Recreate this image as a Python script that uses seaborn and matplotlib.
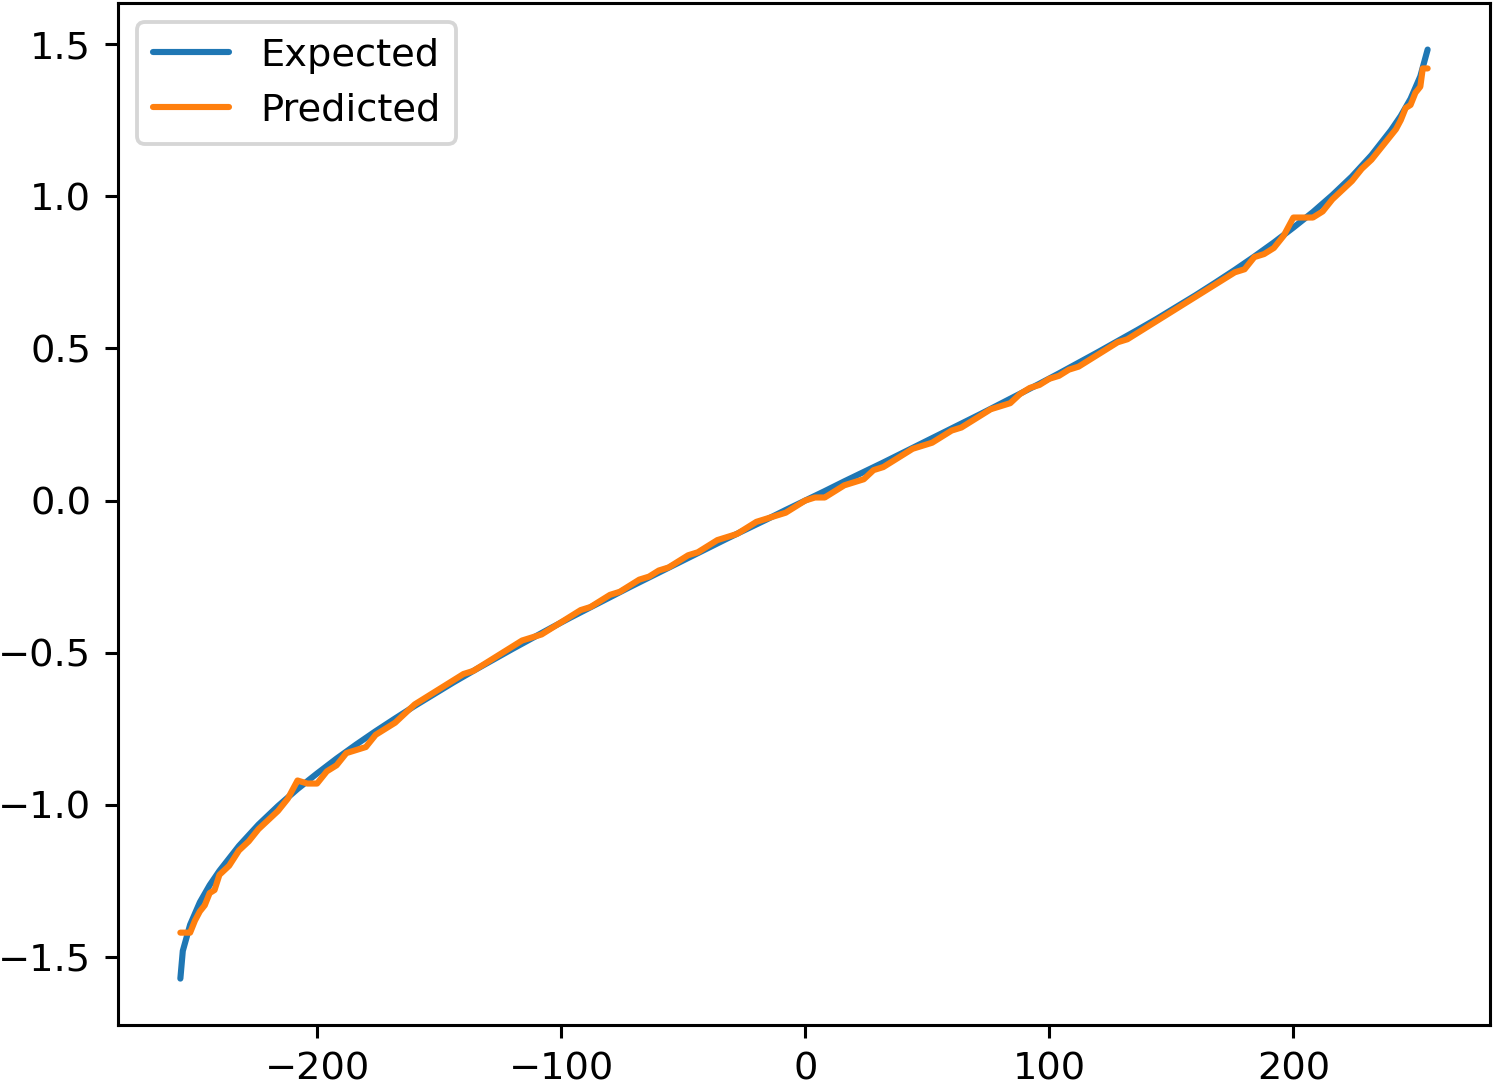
import numpy as np
import pandas as pd
import seaborn as sns
import matplotlib.pyplot as plt

# expected curve
exp_x = [-256, -255, -252, -248, -244, -240, -232, -224, -216, -208, -200, -192,
         -184, -176, -168, -160, -152, -144, -136, -128, -120, -112, -104, -96,
         -88, -80, -72, -64, -56, -48, -40, -32, -24, -16, -8, 0,
         8, 16, 24, 32, 40, 48, 56, 64, 72, 80, 88, 96,
         104, 112, 120, 128, 136, 144, 152, 160, 168, 176, 184, 192,
         200, 208, 216, 224, 232, 240, 244, 248, 252, 255]
exp_y = [-1.571, -1.48, -1.394, -1.320, -1.264, -1.217, -1.135, -1.065, -1.004, -0.948, -0.897, -0.848,
         -0.802, -0.758, -0.716, -0.675, -0.636, -0.597, -0.560, -0.524, -0.488, -0.453, -0.418, -0.384,
         -0.351, -0.318, -0.285, -0.253, -0.221, -0.189, -0.157, -0.125, -0.094, -0.063, -0.031, 0.0,
         0.031, 0.063, 0.094, 0.125, 0.157, 0.189, 0.221, 0.253, 0.285, 0.318, 0.351, 0.384,
         0.418, 0.453, 0.488, 0.524, 0.560, 0.597, 0.636, 0.675, 0.716, 0.758, 0.802, 0.848,
         0.897, 0.948, 1.004, 1.065, 1.135, 1.217, 1.264, 1.320, 1.394, 1.482]

# predicted (quantised) curve
pred_x = [-256, -252, -250, -248, -246, -244, -242, -240, -236, -232, -228, -224,
          -220, -216, -212, -208, -204, -200, -196, -192, -188, -184, -180, -176,
          -172, -168, -164, -160, -156, -152, -148, -144, -140, -136, -132, -128,
          -124, -120, -116, -112, -108, -104, -100, -96, -92, -88, -84, -80,
          -76, -72, -68, -64, -60, -56, -52, -48, -44, -40, -36, -32,
          -28, -24, -20, -16, -12, -8, -4, 0, 4, 8, 12, 16,
          20, 24, 28, 32, 36, 40, 44, 48, 52, 56, 60, 64,
          68, 72, 76, 80, 84, 88, 92, 96, 100, 104, 108, 112,
          116, 120, 124, 128, 132, 136, 140, 144, 148, 152, 156, 160,
          164, 168, 172, 176, 180, 184, 188, 192, 196, 200, 204, 208,
          212, 216, 220, 224, 228, 232, 236, 240, 242, 244, 246, 248,
          250, 252, 253, 255]
pred_y = [-1.42, -1.42, -1.38, -1.35, -1.33, -1.29, -1.28, -1.23, -1.20, -1.15, -1.12, -1.08,
          -1.05, -1.02, -0.98, -0.92, -0.93, -0.93, -0.89, -0.87, -0.83, -0.82, -0.81, -0.77,
          -0.75, -0.73, -0.70, -0.67, -0.65, -0.63, -0.61, -0.59, -0.57, -0.56, -0.54, -0.52,
          -0.50, -0.48, -0.46, -0.45, -0.44, -0.42, -0.40, -0.38, -0.36, -0.35, -0.33, -0.31,
          -0.30, -0.28, -0.26, -0.25, -0.23, -0.22, -0.20, -0.18, -0.17, -0.15, -0.13, -0.12,
          -0.11, -0.09, -0.07, -0.06, -0.05, -0.04, -0.02, 0.00, 0.01, 0.01, 0.03, 0.05,
          0.06, 0.07, 0.10, 0.11, 0.13, 0.15, 0.17, 0.18, 0.19, 0.21, 0.23, 0.24,
          0.26, 0.28, 0.30, 0.31, 0.32, 0.35, 0.37, 0.38, 0.40, 0.41, 0.43, 0.44,
          0.46, 0.48, 0.50, 0.52, 0.53, 0.55, 0.57, 0.59, 0.61, 0.63, 0.65, 0.67,
          0.69, 0.71, 0.73, 0.75, 0.76, 0.80, 0.81, 0.83, 0.87, 0.93, 0.93, 0.93,
          0.95, 0.99, 1.02, 1.05, 1.09, 1.12, 1.16, 1.20, 1.22, 1.25, 1.29, 1.30,
          1.34, 1.36, 1.42, 1.42]

df_exp = pd.DataFrame({'x': exp_x, 'y': exp_y})
df_pred = pd.DataFrame({'x': pred_x, 'y': pred_y})

sns.set_style('ticks')
plt.rcParams['font.family'] = ['DejaVu Sans']
plt.rcParams['text.color'] = 'black'

DPI = 276.6
fig = plt.figure(figsize=(1495 / DPI, 1084 / DPI), dpi=DPI)
ax = fig.add_axes([118 / 1495, 59 / 1084, 1372 / 1495, 1022 / 1084])

sns.lineplot(data=df_exp, x='x', y='y', color='#1f77b4', linewidth=1.6,
             label='Expected', ax=ax)
sns.lineplot(data=df_pred, x='x', y='y', color='#ff7f0e', linewidth=1.6,
             label='Predicted', ax=ax)

ax.set_xlabel('')
ax.set_ylabel('')
ax.set_xlim(-281.55, 280.55)
ax.set_ylim(-1.7235, 1.635)
ax.set_xticks([-200, -100, 0, 100, 200])
ax.set_yticks([-1.5, -1.0, -0.5, 0.0, 0.5, 1.0, 1.5])
for s in ax.spines.values():
    s.set_visible(True)
    s.set_color('black')
    s.set_linewidth(0.8)
ax.tick_params(direction='out', length=3.5, width=0.8, labelsize=10,
               colors='black', labelcolor='black')
ax.legend(loc='upper left', fontsize=10, frameon=True, framealpha=0.8,
          edgecolor='#cccccc', fancybox=True, labelcolor='black')

fig.savefig('out.png', dpi=DPI)
